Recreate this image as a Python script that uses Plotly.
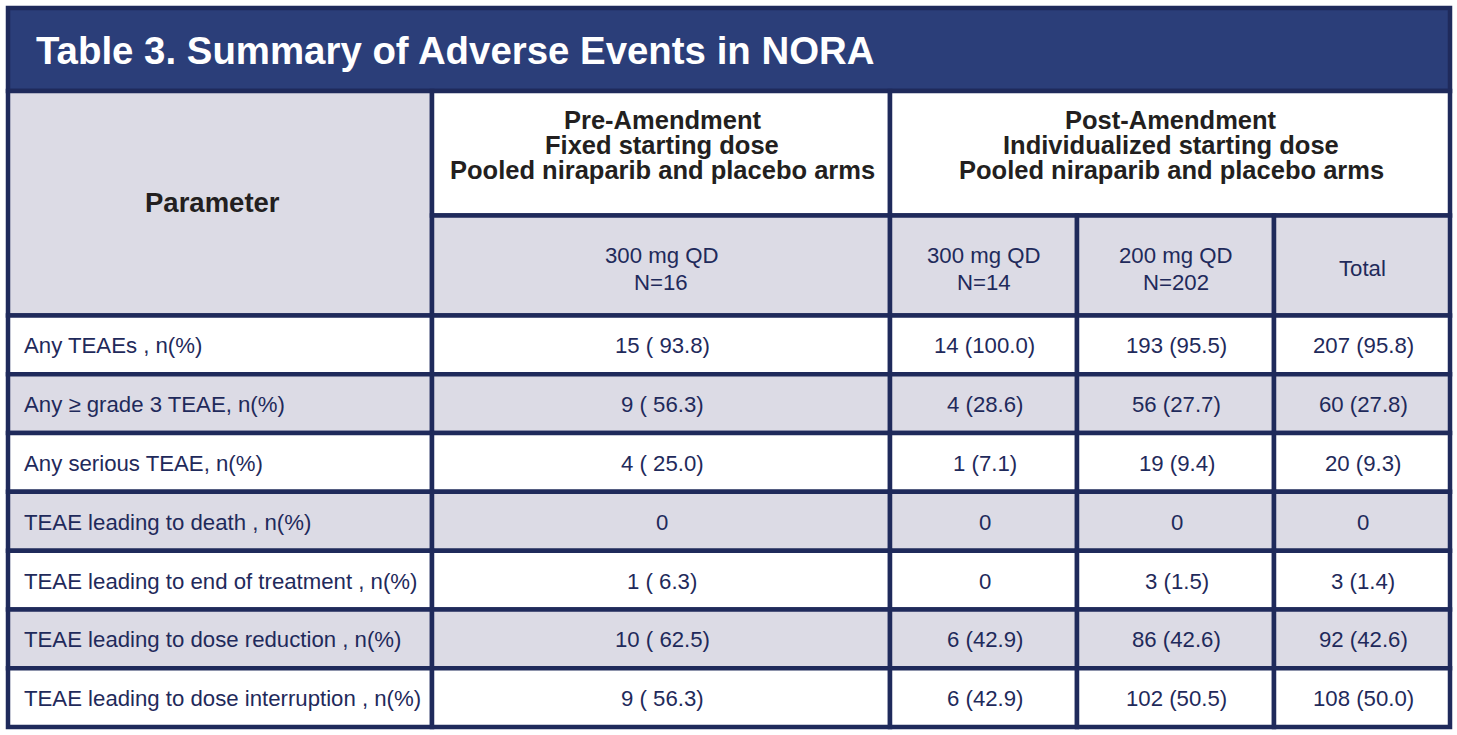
import plotly.graph_objects as go

# ---------------- data ----------------
title = "Table 3. Summary of Adverse Events in NORA"
param_header = "Parameter"
group_headers = [
    ["Pre-Amendment", "Fixed starting dose", "Pooled niraparib and placebo arms"],
    ["Post-Amendment", "Individualized starting dose", "Pooled niraparib and placebo arms"],
]
arm_headers = [["300 mg QD", "N=16"], ["300 mg QD", "N=14"], ["200 mg QD", "N=202"], ["Total"]]
parameters = [
    "Any TEAEs , n(%)",
    "Any \u2265 grade 3 TEAE, n(%)",
    "Any serious TEAE, n(%)",
    "TEAE leading to death , n(%)",
    "TEAE leading to end of treatment , n(%)",
    "TEAE leading to dose reduction , n(%)",
    "TEAE leading to dose interruption , n(%)",
]
pre_300 = ["15 ( 93.8)", "9 ( 56.3)", "4 ( 25.0)", "0", "1 ( 6.3)", "10 ( 62.5)", "9 ( 56.3)"]
post_300 = ["14 (100.0)", "4 (28.6)", "1 (7.1)", "0", "0", "6 (42.9)", "6 (42.9)"]
post_200 = ["193 (95.5)", "56 (27.7)", "19 (9.4)", "0", "3 (1.5)", "86 (42.6)", "102 (50.5)"]
post_total = ["207 (95.8)", "60 (27.8)", "20 (9.3)", "0", "3 (1.4)", "92 (42.6)", "108 (50.0)"]
value_cols = [pre_300, post_300, post_200, post_total]

# ---------------- layout constants ----------------
W, H = 1457, 735
col_edges = [8, 432, 890, 1077, 1274, 1450]
y_top = 8
y_title = 91
y_head1 = 215.5
y_head2 = 315.5
y_bottom = 727
n_rows = len(parameters)
row_h = (y_bottom - y_head2) / n_rows

NAVY = "#2b3e79"
BORDER = "#1f2a5b"
GREY = "#dcdbe5"
WHITE = "#ffffff"
TXT = "#1f2a5b"
HTXT = "#231f20"
FONT = "Liberation Sans, Arial, sans-serif"

fig = go.Figure()
shapes = []
annotations = []


def cell(x0, x1, y0, y1, fill):
    shapes.append(dict(type="rect", xref="x", yref="y", x0=x0, x1=x1, y0=y0, y1=y1,
                       fillcolor=fill, line=dict(color=BORDER, width=4.5), layer="below"))


def text(x, y, s, size, color, bold=False, xanchor="center"):
    annotations.append(dict(x=x, y=y, xref="x", yref="y", text=(f"<b>{s}</b>" if bold else s),
                            showarrow=False, xanchor=xanchor, yanchor="middle",
                            font=dict(family=FONT, size=size, color=color)))


# title bar
cell(col_edges[0], col_edges[-1], y_top, y_title, NAVY)
text(34, (y_top + y_title) / 2 + 1, title, 38.4, WHITE, bold=True, xanchor="left")

# parameter header
cell(col_edges[0], col_edges[1], y_title, y_head2, GREY)
text((col_edges[0] + col_edges[1]) / 2 - 8, (y_title + y_head2) / 2 - 1, param_header, 27.5, HTXT, bold=True)

# group headers (three tightly stacked lines, as in the reference)
group_spans = [(col_edges[1], col_edges[2]), (col_edges[2], col_edges[5])]
line_gap = 25
for (gx0, gx1), lines in zip(group_spans, group_headers):
    cell(gx0, gx1, y_title, y_head1, WHITE)
    cy = (y_title + y_head1) / 2 - 8
    for i, ln in enumerate(lines):
        text((gx0 + gx1) / 2 + 1, cy + (i - (len(lines) - 1) / 2) * line_gap, ln, 25.5, HTXT, bold=True)

# arm headers
for j, lines in enumerate(arm_headers):
    x0, x1 = col_edges[j + 1], col_edges[j + 2]
    cell(x0, x1, y_head1, y_head2, GREY)
    cy = (y_head1 + y_head2) / 2 + 3
    for i, ln in enumerate(lines):
        text((x0 + x1) / 2, cy + (i - (len(lines) - 1) / 2) * 27, ln, 22.2, TXT)

# data rows
for r in range(n_rows):
    y0 = y_head2 + r * row_h
    y1 = y0 + row_h
    fill = WHITE if r % 2 == 0 else GREY
    cy = (y0 + y1) / 2 + 1
    cell(col_edges[0], col_edges[1], y0, y1, fill)
    text(col_edges[0] + 14, cy, parameters[r], 22.2, TXT, xanchor="left")
    for j, col in enumerate(value_cols):
        x0, x1 = col_edges[j + 1], col_edges[j + 2]
        cell(x0, x1, y0, y1, fill)
        text((x0 + x1) / 2 + 1, cy, col[r], 22.2, TXT)

fig.update_layout(
    width=W, height=H,
    margin=dict(l=0, r=0, t=0, b=0),
    paper_bgcolor="white", plot_bgcolor="white",
    xaxis=dict(range=[0, W], visible=False, fixedrange=True),
    yaxis=dict(range=[H, 0], visible=False, fixedrange=True),
    shapes=shapes, annotations=annotations, showlegend=False,
)
fig.write_html(
    "out.html",
    config={"displayModeBar": False},
    post_script="document.body.style.margin='0';document.body.style.overflow='hidden';",
)
